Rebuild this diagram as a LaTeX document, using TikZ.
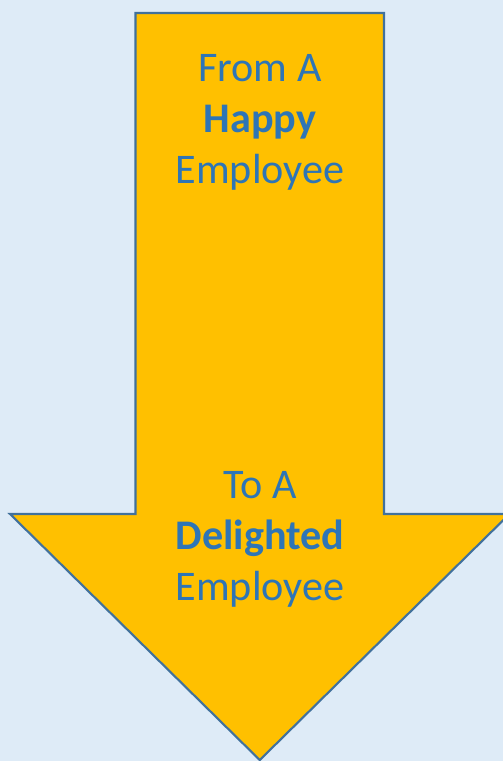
\documentclass[tikz,border=0pt]{standalone}
\usepackage{fontspec}
\setmainfont{Carlito}
\usepackage{tikz}
\usetikzlibrary{positioning,calc}
\definecolor{bgblue}{HTML}{DEEBF7}
\definecolor{arrowgold}{HTML}{FFC000}
\definecolor{edgeblue}{HTML}{41719C}
\definecolor{textblue}{HTML}{2E75B6}
\tikzset{bigarrow/.style={draw=edgeblue, fill=arrowgold, line width=1.2pt, line join=miter}}
\tikzset{arrowtext/.style={text=textblue, align=center, inner sep=0pt, font=\fontsize{24}{29}\selectfont}}

\begin{document}
\begin{tikzpicture}[x=0.02cm, y=-0.02cm]
            \fill[bgblue] (0,0) rectangle (503,761);
            \useasboundingbox (0,0) rectangle (503,761);
            % arrow outline: shaft then head
            \coordinate (shaftTL) at (135.5,13);
            \coordinate (shaftTR) at (384,13);
            \coordinate (headR) at (509.5,514);
            \coordinate (headL) at (10,514);
            \coordinate (tip) at (259.75,760);
            \draw[bigarrow] (shaftTL) -- (shaftTR) -- (shaftTR |- headR) -- (headR)
                -- (tip) -- (headL) -- (shaftTL |- headL) -- cycle;
            \node[arrowtext] (from) at (260,122) {From A\\\textbf{Happy}\\Employee};
            \node[arrowtext] (to) at (260,539) {To A\\\textbf{Delighted}\\Employee};
        \end{tikzpicture}
\end{document}
